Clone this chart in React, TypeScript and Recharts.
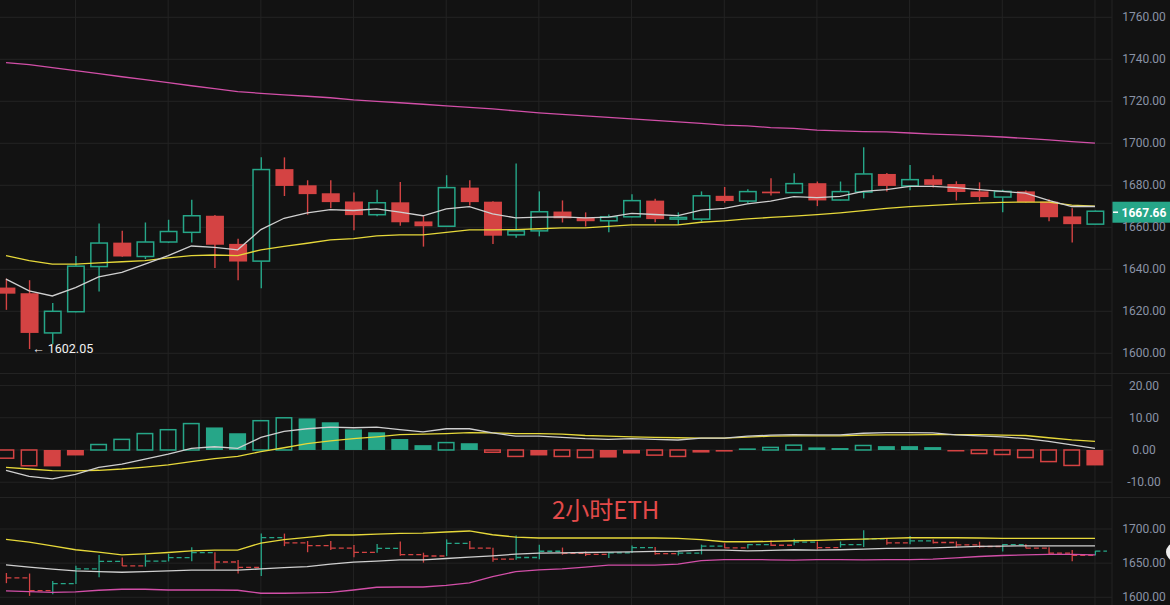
import React from 'react';
import {
  ComposedChart,
  Bar,
  Line,
  XAxis,
  YAxis,
  CartesianGrid,
  ReferenceLine,
  ReferenceDot,
} from 'recharts';

// ---------- colours ----------
const BG = '#121212';
const GRID = '#232323';
const RED = '#d44343';
const GREEN = '#26a688';
const AXIS_TEXT = '#8a93a6';
const WHITE_LINE = '#cfcfcf';
const YELLOW_LINE = '#e6d83a';
const PINK_LINE = '#d24fa8';

// ---------- data ----------
const CANDLE_INDEX = [
  -3, -2, -1, 0, 1, 2, 3, 4, 5, 6, 7, 8, 9, 10, 11, 12, 13, 14, 15, 16, 17, 18, 19, 20,
  21, 22, 23, 24, 25, 26, 27, 28, 29, 30, 31, 32, 33, 34, 35, 36, 37, 38, 39, 40, 41, 42, 43, 44,
];
const OPEN = [
  1631.3, 1628.6, 1609.7, 1619.8, 1641.3, 1652.7, 1646.1, 1653.0, 1657.6, 1665.5, 1652.1, 1643.9,
  1687.7, 1680.0, 1676.2, 1672.3, 1666.0, 1671.9, 1662.8, 1660.5, 1678.9, 1672.2, 1656.4, 1658.3,
  1667.5, 1664.5, 1663.1, 1665.0, 1672.7, 1663.9, 1663.9, 1675.0, 1672.5, 1677.0, 1676.5, 1681.0,
  1673.0, 1676.8, 1685.4, 1679.7, 1682.9, 1680.6, 1677.1, 1674.4, 1677.1, 1672.2, 1665.2, 1661.5,
];
const HIGH = [
  1635.6, 1634.8, 1624.0, 1646.3, 1661.8, 1658.4, 1662.3, 1663.6, 1673.1, 1665.8, 1654.5, 1693.3,
  1693.3, 1682.4, 1682.4, 1676.6, 1677.9, 1681.6, 1665.3, 1684.8, 1682.4, 1672.4, 1690.4, 1677.1,
  1672.8, 1667.1, 1666.1, 1675.7, 1673.6, 1667.1, 1677.1, 1679.2, 1678.1, 1683.4, 1685.7, 1681.8,
  1681.8, 1698.1, 1685.9, 1689.7, 1684.8, 1681.9, 1681.4, 1677.9, 1677.5, 1673.3, 1669.1, 1668.0,
];
const LOW = [
  1620.7, 1602.05, 1604.3, 1619.5, 1629.4, 1646.0, 1644.9, 1652.5, 1652.8, 1640.6, 1634.8, 1631.0,
  1674.9, 1666.0, 1669.1, 1658.6, 1665.3, 1660.7, 1650.8, 1660.3, 1670.4, 1652.1, 1655.0, 1655.7,
  1662.3, 1660.4, 1657.7, 1664.8, 1662.4, 1661.3, 1662.8, 1671.7, 1671.4, 1675.2, 1676.3, 1670.1,
  1672.8, 1673.8, 1677.1, 1677.7, 1678.9, 1672.8, 1672.5, 1667.2, 1671.8, 1662.9, 1652.8, 1661.3,
];
const CLOSE = [
  1628.4, 1609.7, 1620.0, 1641.5, 1652.5, 1646.1, 1653.0, 1658.0, 1665.5, 1651.7, 1643.7, 1687.5,
  1679.7, 1675.8, 1672.0, 1665.8, 1671.7, 1662.4, 1660.5, 1678.9, 1672.0, 1656.0, 1658.3, 1667.4,
  1664.3, 1662.9, 1665.0, 1672.7, 1663.9, 1664.7, 1675.0, 1672.5, 1677.0, 1676.2, 1680.8, 1672.8,
  1677.0, 1685.4, 1679.7, 1682.7, 1680.2, 1676.8, 1674.4, 1677.1, 1672.0, 1664.8, 1661.5, 1667.66,
];
const MA_FAST = [
  1635.3, 1629.7, 1627.3, 1631.3, 1636.4, 1638.5, 1642.5, 1646.5, 1651.1, 1650.4, 1649.3, 1658.9,
  1664.3, 1666.9, 1668.4, 1668.0, 1668.8, 1667.2, 1665.5, 1668.8, 1669.8, 1666.4, 1664.5, 1664.8,
  1665.0, 1664.5, 1664.8, 1666.6, 1666.1, 1665.6, 1668.2, 1669.0, 1671.2, 1672.5, 1674.6, 1674.1,
  1674.7, 1677.1, 1677.9, 1679.5, 1679.5, 1678.9, 1677.9, 1677.1, 1676.3, 1672.8, 1669.9, 1669.9,
];
const MA_MID = [
  1646.5, 1644.1, 1642.5, 1642.5, 1643.1, 1643.6, 1644.1, 1645.4, 1646.5, 1646.8, 1646.5, 1649.3,
  1650.9, 1652.4, 1654.0, 1654.6, 1655.9, 1656.4, 1656.4, 1657.6, 1658.8, 1658.8, 1658.9, 1659.3,
  1659.7, 1659.7, 1660.4, 1661.2, 1661.2, 1661.2, 1662.4, 1663.1, 1664.0, 1664.7, 1665.3, 1666.0,
  1666.9, 1667.9, 1669.0, 1669.8, 1670.4, 1671.0, 1671.5, 1671.9, 1672.0, 1672.0, 1670.6, 1670.1,
];
const MA_SLOW = [
  1738.4, 1737.5, 1736.0, 1734.6, 1733.2, 1731.7, 1730.3, 1728.9, 1727.4, 1726.0, 1724.6, 1723.8,
  1723.1, 1722.4, 1721.7, 1720.7, 1720.0, 1719.3, 1718.6, 1717.8, 1717.1, 1716.4, 1715.4, 1714.5,
  1713.8, 1713.1, 1712.3, 1711.6, 1710.9, 1710.2, 1709.5, 1708.7, 1708.3, 1707.5, 1707.1, 1706.3,
  1705.9, 1705.6, 1705.4, 1704.9, 1704.4, 1704.0, 1703.5, 1703.0, 1702.3, 1701.6, 1700.8, 1700.1,
];
const MACD_HIST = [
  -2.55, -4.9, -5.1, -1.7, 1.7, 3.3, 5.1, 6.3, 8.2, 7.0, 5.2, 9.1, 10.0, 9.8, 8.6, 6.4, 5.5, 3.4,
  1.5, 2.3, 2.1, -0.7, -2.0, -1.7, -2.0, -2.35, -2.35, -1.1, -1.6, -2.0, -0.8, -0.5, 0.5, 0.8, 1.5,
  0.8, 0.6, 1.4, 1.2, 1.2, 0.9, -0.2, -1.1, -1.4, -2.35, -3.6, -4.8, -4.8,
];
const MACD_FILLED = [
  0, 0, 1, 1, 0, 0, 0, 0, 0, 1, 1, 0, 0, 1, 1, 1, 1, 1, 1, 0, 1, 0, 0, 1, 0, 0, 1, 1, 0, 0, 1, 1,
  1, 0, 0, 1, 1, 0, 1, 1, 1, 1, 0, 0, 0, 0, 0, 1,
];
const DIF = [
  -6.3, -8.2, -9.0, -7.6, -5.4, -4.4, -2.85, -1.3, 0.5, 1.0, 0.5, 3.9, 5.8, 6.6, 7.1, 6.9, 7.1, 6.3,
  5.6, 6.6, 6.6, 5.3, 4.3, 4.3, 3.9, 3.5, 3.3, 3.5, 3.3, 3.1, 3.7, 3.7, 4.3, 4.6, 4.8, 4.7, 4.7, 5.2,
  5.4, 5.4, 5.3, 4.7, 4.4, 4.1, 3.5, 2.7, 1.6, 0.5,
];
const DEA = [
  -5.4, -5.9, -6.4, -6.5, -6.3, -5.9, -5.3, -4.6, -3.6, -2.65, -2.0, -0.5, 0.7, 2.0, 2.85, 3.5, 4.1,
  4.8, 4.9, 5.1, 5.4, 5.3, 5.1, 5.1, 4.9, 4.5, 4.3, 4.1, 3.9, 3.8, 3.7, 3.7, 4.0, 4.3, 4.4, 4.4, 4.4,
  4.6, 4.7, 4.7, 4.8, 4.8, 4.8, 4.6, 4.5, 3.8, 3.15, 2.7,
];
const BB_UP = [
  1684.8, 1680.9, 1675.4, 1669.6, 1666.2, 1662.2, 1663.7, 1665.6, 1668.1, 1669.1, 1669.1, 1679.4,
  1684.3, 1687.7, 1691.2, 1691.2, 1692.6, 1693.6, 1694.1, 1695.6, 1697.1, 1691.6, 1688.2, 1686.8,
  1686.8, 1686.8, 1686.8, 1686.8, 1686.8, 1686.2, 1684.3, 1681.3, 1681.3, 1681.8, 1682.8, 1683.3,
  1684.3, 1685.3, 1686.2, 1687.2, 1687.2, 1687.2, 1686.8, 1686.2, 1686.2, 1686.2, 1686.2, 1686.2,
];
const BB_MID = [
  1647.5, 1644.1, 1641.2, 1638.7, 1637.6, 1636.7, 1637.6, 1638.7, 1639.7, 1639.7, 1639.7, 1641.6,
  1643.5, 1645.0, 1648.5, 1651.5, 1652.9, 1654.9, 1654.9, 1656.8, 1658.8, 1660.7, 1663.2, 1664.7,
  1665.1, 1665.6, 1666.1, 1666.6, 1667.1, 1667.6, 1669.1, 1669.1, 1668.1, 1668.6, 1669.6, 1669.1,
  1669.6, 1670.6, 1671.5, 1672.0, 1672.5, 1673.5, 1674.5, 1675.0, 1675.4, 1675.4, 1675.4, 1675.4,
];
const BB_LOW = [
  1609.3, 1608.2, 1607.3, 1607.8, 1610.3, 1611.8, 1611.8, 1610.7, 1610.7, 1610.7, 1610.3, 1605.9,
  1605.9, 1606.4, 1607.3, 1610.7, 1614.7, 1615.1, 1615.1, 1617.6, 1621.0, 1630.3, 1637.6, 1640.1,
  1641.6, 1644.1, 1647.1, 1647.1, 1647.1, 1648.5, 1653.8, 1655.3, 1655.3, 1654.9, 1654.4, 1655.3,
  1655.3, 1654.9, 1655.3, 1655.3, 1655.9, 1657.8, 1659.7, 1661.2, 1662.2, 1662.7, 1662.7, 1662.2,
];

const PRICE_TICKS = [1600, 1620, 1640, 1660, 1680, 1700, 1720, 1740, 1760];
const MACD_TICKS = [-10, 0, 10, 20];
const BOTTOM_TICKS = [1600, 1650, 1700];
const GRID_X = [0, 4, 8, 12, 16, 20, 24, 28, 32, 36, 40, 44];
const LOW_MARK_INDEX = -2;
const LOW_MARK_VALUE = 1602.05;
const TITLE = '2小时ETH';

// ---------- layout ----------
const W = 1170;
const AXIS_W = 58;
const PLOT_W = W - AXIS_W;
const X_MIN = -3.2585;
const X_MAX = 44.735;
const STEP_PX = PLOT_W / (X_MAX - X_MIN);
const MAIN_H = 373;
const MACD_H = 124;
const BOT_H = 108;
const MAIN_DOMAIN = [1590.62, 1768.24];
const MACD_DOMAIN = [-14.6, 23.91];
const BOT_DOMAIN = [1588.72, 1746.85];
const LAST_INDEX = CANDLE_INDEX[CANDLE_INDEX.length - 1];
const LAST_CLOSE = CLOSE[CLOSE.length - 1];

const data = CANDLE_INDEX.map((i, k) => ({
  i,
  open: OPEN[k],
  high: HIGH[k],
  low: LOW[k],
  close: CLOSE[k],
  range: [LOW[k], HIGH[k]],
  maFast: MA_FAST[k],
  maMid: MA_MID[k],
  maSlow: MA_SLOW[k],
  hist: MACD_HIST[k],
  filled: MACD_FILLED[k] === 1,
  dif: DIF[k],
  dea: DEA[k],
  bbUp: BB_UP[k],
  bbMid: BB_MID[k],
  bbLow: BB_LOW[k],
}));

const FONT = 'Roboto, "Noto Sans", sans-serif';

const AxisTick = (props: any) => {
  const { x, y, payload } = props;
  return (
    <text
      x={x + 24}
      y={y}
      dy={4}
      textAnchor="middle"
      fill={AXIS_TEXT}
      fontSize={12}
      fontFamily={FONT}
    >
      {Number(payload.value).toFixed(2)}
    </text>
  );
};

const CandleShape = (props: any) => {
  const { x, y, width, height, payload } = props;
  if (!payload || height == null) return null;
  const { open, close, high, low } = payload;
  const k = height / (high - low);
  const cx = x + width / 2;
  const yO = y + (high - open) * k;
  const yC = y + (high - close) * k;
  const top = Math.min(yO, yC);
  const bodyH = Math.max(Math.abs(yO - yC), 1.2);
  const up = close >= open;
  if (up) {
    return (
      <g>
        <line x1={cx} x2={cx} y1={y} y2={top} stroke={GREEN} strokeWidth={1.4} />
        <line x1={cx} x2={cx} y1={top + bodyH} y2={y + height} stroke={GREEN} strokeWidth={1.4} />
        <rect
          x={x + 0.75}
          y={top}
          width={width - 1.5}
          height={bodyH}
          fill={BG}
          stroke={GREEN}
          strokeWidth={1.5}
        />
      </g>
    );
  }
  return (
    <g>
      <line x1={cx} x2={cx} y1={y} y2={y + height} stroke={RED} strokeWidth={1.4} />
      <rect x={x} y={top} width={width} height={bodyH} fill={RED} />
    </g>
  );
};

const StepShape = (props: any) => {
  const { x, y, width, height, payload } = props;
  if (!payload || height == null) return null;
  const { open, close, high, low, i } = payload;
  const k = height / (high - low);
  const cx = x + width / 2;
  const yC = y + (high - close) * k;
  const color = close >= open ? GREEN : RED;
  const len = i === LAST_INDEX ? STEP_PX / 2 : STEP_PX;
  return (
    <g>
      <line x1={cx} x2={cx} y1={y} y2={y + Math.max(height, 1)} stroke={color} strokeWidth={1.3} />
      <line
        x1={cx}
        x2={cx + len}
        y1={yC}
        y2={yC}
        stroke={color}
        strokeWidth={1.3}
        strokeDasharray="5 3"
      />
    </g>
  );
};

const MacdShape = (props: any) => {
  const { x, y, width, height, payload } = props;
  if (!payload || height == null) return null;
  const top = Math.min(y, y + height);
  const h = Math.max(Math.abs(height), 1.5);
  const color = payload.hist >= 0 ? GREEN : RED;
  if (payload.filled) {
    return <rect x={x} y={top} width={width} height={h} fill={color} />;
  }
  return (
    <rect
      x={x + 0.75}
      y={top}
      width={width - 1.5}
      height={h}
      fill="none"
      stroke={color}
      strokeWidth={1.5}
    />
  );
};

const PriceTag = (props: any) => {
  const vb = props.viewBox;
  if (!vb) return null;
  const x = vb.x + vb.width;
  const y = vb.y;
  return (
    <g>
      <rect x={x} y={y - 9.5} width={AXIS_W} height={21} fill={GREEN} />
      <line x1={x + 1} x2={x + 6} y1={y + 1} y2={y + 1} stroke="#ffffff" strokeWidth={1.5} />
      <text
        x={x + 32}
        y={y + 5.5}
        textAnchor="middle"
        fill="#ffffff"
        fontSize={12}
        fontWeight={700}
        fontFamily={FONT}
      >
        {LAST_CLOSE.toFixed(2)}
      </text>
    </g>
  );
};

const LowLabel = (props: any) => {
  const vb = props.viewBox;
  if (!vb) return null;
  const cx = vb.x + vb.width / 2;
  const cy = vb.y + vb.height / 2;
  return (
    <text x={cx + 3} y={cy + 4} fill="#f2f2f2" fontSize={12.5} fontFamily={FONT}>
      {'← ' + LOW_MARK_VALUE.toFixed(2)}
    </text>
  );
};

const xAxisEl = (
  <XAxis
    dataKey="i"
    type="number"
    domain={[X_MIN, X_MAX]}
    allowDataOverflow
    ticks={GRID_X}
    hide
  />
);

const yAxisEl = (domain: number[], ticks: number[]) => (
  <YAxis
    orientation="right"
    width={AXIS_W}
    domain={domain}
    allowDataOverflow
    ticks={ticks}
    interval={0}
    tick={<AxisTick />}
    tickLine={false}
    axisLine={{ stroke: GRID }}
  />
);

const lineEl = (key: string, color: string) => (
  <Line
    type="linear"
    dataKey={key}
    stroke={color}
    strokeWidth={1.3}
    dot={false}
    activeDot={false}
    isAnimationActive={false}
  />
);

export default function App() {
  return (
    <div
      style={{
        position: 'absolute',
        left: 0,
        top: 0,
        width: W,
        height: 605,
        background: BG,
        overflow: 'hidden',
      }}
    >
      {/* main price panel */}
      <div style={{ position: 'absolute', left: 0, top: 0 }}>
        <ComposedChart
          width={W}
          height={MAIN_H}
          data={data}
          margin={{ top: 0, right: 0, bottom: 0, left: 0 }}
        >
          <CartesianGrid stroke={GRID} verticalValues={GRID_X} horizontalValues={PRICE_TICKS} />
          {xAxisEl}
          {yAxisEl(MAIN_DOMAIN, PRICE_TICKS)}
          <Bar dataKey="range" barSize={18} shape={<CandleShape />} isAnimationActive={false} />
          {lineEl('maSlow', PINK_LINE)}
          {lineEl('maMid', YELLOW_LINE)}
          {lineEl('maFast', WHITE_LINE)}
          <ReferenceLine y={LAST_CLOSE} stroke="none" label={<PriceTag />} />
          <ReferenceDot
            x={LOW_MARK_INDEX}
            y={LOW_MARK_VALUE}
            r={0}
            fill="none"
            stroke="none"
            label={<LowLabel />}
          />
        </ComposedChart>
      </div>

      {/* MACD panel */}
      <div style={{ position: 'absolute', left: 0, top: MAIN_H }}>
        <ComposedChart
          width={W}
          height={MACD_H}
          data={data}
          margin={{ top: 0, right: 0, bottom: 0, left: 0 }}
        >
          <CartesianGrid stroke={GRID} verticalValues={GRID_X} horizontalValues={MACD_TICKS} />
          {xAxisEl}
          {yAxisEl(MACD_DOMAIN, MACD_TICKS)}
          <Bar dataKey="hist" barSize={17} shape={<MacdShape />} isAnimationActive={false} />
          {lineEl('dea', YELLOW_LINE)}
          {lineEl('dif', WHITE_LINE)}
        </ComposedChart>
      </div>

      {/* bottom panel */}
      <div style={{ position: 'absolute', left: 0, top: MAIN_H + MACD_H }}>
        <ComposedChart
          width={W}
          height={BOT_H}
          data={data}
          margin={{ top: 0, right: 0, bottom: 0, left: 0 }}
        >
          <CartesianGrid stroke={GRID} verticalValues={GRID_X} horizontalValues={BOTTOM_TICKS} />
          {xAxisEl}
          {yAxisEl(BOT_DOMAIN, BOTTOM_TICKS)}
          {lineEl('bbLow', PINK_LINE)}
          {lineEl('bbMid', WHITE_LINE)}
          {lineEl('bbUp', YELLOW_LINE)}
          <Bar dataKey="range" barSize={18} shape={<StepShape />} isAnimationActive={false} />
        </ComposedChart>
      </div>

      {/* panel separators */}
      <div style={{ position: 'absolute', left: 0, top: MAIN_H, width: W, height: 1, background: GRID }} />
      <div
        style={{ position: 'absolute', left: 0, top: MAIN_H + MACD_H, width: W, height: 1, background: GRID }}
      />

      {/* title */}
      <div
        style={{
          position: 'absolute',
          left: 552,
          top: 494,
          fontSize: 24,
          lineHeight: '30px',
          color: '#e24a4a',
          fontFamily: '"Noto Sans CJK SC", "Noto Sans", sans-serif',
          whiteSpace: 'nowrap',
        }}
      >
        {TITLE}
      </div>

      {/* edge handle */}
      <div
        style={{
          position: 'absolute',
          left: 1166,
          top: 543,
          width: 18,
          height: 18,
          borderRadius: '50%',
          background: '#eeeeee',
        }}
      />
    </div>
  );
}
